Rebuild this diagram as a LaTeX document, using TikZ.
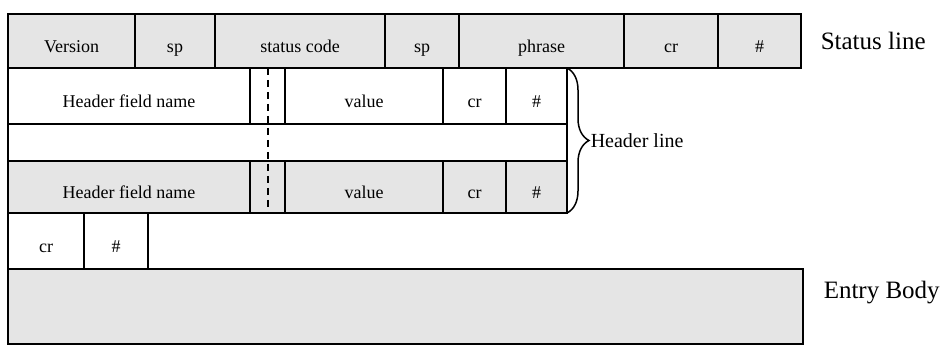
\documentclass[tikz,border=0pt]{standalone}
\usepackage{fontspec}
\setmainfont{Liberation Serif}
\usetikzlibrary{positioning}
\usetikzlibrary{decorations.pathreplacing}

\tikzset{
  cell/.style={rectangle, draw, outer sep=0pt, inner sep=0pt,
               text height=24pt, text depth=0pt,
               font=\fontsize{18}{20}\selectfont},
  shaded/.style={fill=black!10},
  sidetext/.style={anchor=west, inner sep=0pt, font=\fontsize{25}{28}\selectfont}
}

\begin{document}
\begin{tikzpicture}[x=1pt, y=1pt]
\useasboundingbox (0,0) rectangle (946,347);
\begin{scope}[line width=1.5pt]

  % status line
  \begin{scope}[every node/.append style={minimum height=54pt}]
  \node[cell, shaded, minimum width=127pt] (version) at (71.5,306) {Version};
  \node[cell, shaded, minimum width=80pt, right=0pt of version] (sp1) {sp};
  \node[cell, shaded, minimum width=170pt, right=0pt of sp1] (code) {status code};
  \node[cell, shaded, minimum width=74pt, right=0pt of code] (sp2) {sp};
  \node[cell, shaded, minimum width=165pt, right=0pt of sp2] (phrase) {phrase};
  \node[cell, shaded, minimum width=94pt, right=0pt of phrase] (cr0) {cr};
  \node[cell, shaded, minimum width=83pt, right=0pt of cr0] (hash0) {\#};
  \end{scope}
  \node[sidetext] (statuslbl) at ([xshift=19pt, yshift=0pt]hash0.east) {Status line};

  % first header line
  \begin{scope}[every node/.append style={minimum height=56pt}]
  \node[cell, anchor=north west, minimum width=242pt] (name1) at (version.south west) {Header field name};
  \node[cell, minimum width=35pt, right=0pt of name1] (gap1) {};
  \node[cell, minimum width=158pt, right=0pt of gap1] (value1) {value};
  \node[cell, minimum width=63pt, right=0pt of value1] (cr1) {cr};
  \node[cell, minimum width=61pt, right=0pt of cr1] (hash1) {\#};
  \end{scope}

  % empty line between headers
  \node[cell, anchor=north west, minimum width=559pt, minimum height=37pt] (blank) at (name1.south west) {};

  % last header line
  \begin{scope}[every node/.append style={minimum height=52pt}]
  \node[cell, shaded, anchor=north west, minimum width=242pt] (name2) at (blank.south west) {Header field name};
  \node[cell, shaded, minimum width=35pt, right=0pt of name2] (gap2) {};
  \node[cell, shaded, minimum width=158pt, right=0pt of gap2] (value2) {value};
  \node[cell, shaded, minimum width=63pt, right=0pt of value2] (cr2) {cr};
  \node[cell, shaded, minimum width=61pt, right=0pt of cr2] (hash2) {\#};
  \end{scope}

  % separator between name and value
  \draw[line width=2pt, dash pattern=on 7pt off 5pt] (gap1.north) -- (gap2.south);

  \draw[decorate, decoration={brace, amplitude=22pt}] (hash1.north east)
        -- node[right=23pt, inner sep=0pt, font=\fontsize{20}{22}\selectfont] (hdrlbl) {Header line}
        (hash2.south east);

  % end of header
  \begin{scope}[every node/.append style={minimum height=56pt}]
  \node[cell, anchor=north west, minimum width=76pt] (cr3) at (name2.south west) {cr};
  \node[cell, minimum width=64pt, right=0pt of cr3] (hash3) {\#};
  \end{scope}

  % body
  \node[cell, shaded, anchor=north west, minimum width=795pt, minimum height=75pt] (body) at (cr3.south west) {};
  \node[sidetext] (bodylbl) at ([xshift=20pt, yshift=14pt]body.east) {Entry Body};

\end{scope}
\end{tikzpicture}
\end{document}
